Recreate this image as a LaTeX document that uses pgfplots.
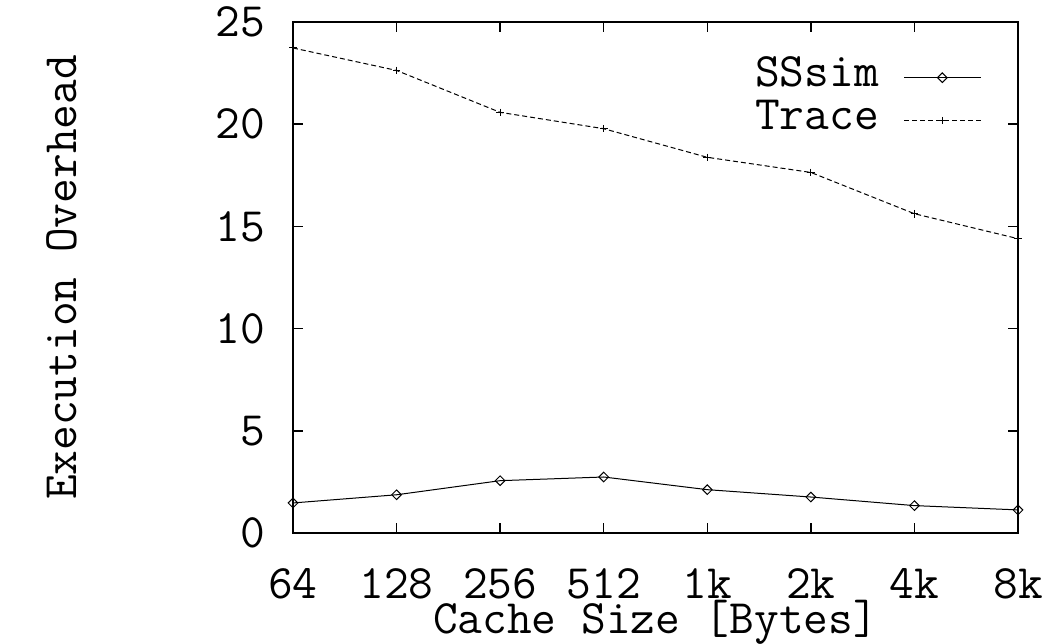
\documentclass[border=0pt]{standalone}
\usepackage{fontspec}
\setmainfont{Latin Modern Mono}
\usepackage{pgfplots}
\pgfplotsset{compat=1.18}
\begin{document}
\begin{tikzpicture}
\useasboundingbox (-293bp,-111bp) rectangle (756bp,533bp);
\begin{axis}[
  at={(0,0)}, anchor=south west,
  scale only axis, width=725bp, height=511bp,
  xmin=0, xmax=7, ymin=0, ymax=25,
  xtick={0,...,7}, xticklabels={64,128,256,512,1k,2k,4k,8k},
  ytick={0,5,...,25},
  font=\fontsize{48bp}{56bp}\selectfont,
  /pgf/number format/assume math mode=true,
  axis line style={line width=2bp},
  major tick length=10bp,
  tick style={line width=1.5bp, black},
  tick align=inside,
  xticklabel style={anchor=base, yshift=-65bp, inner sep=0pt},
  yticklabel style={anchor=east, xshift=-28bp, inner sep=0pt},
  xlabel={Cache Size [Bytes]},
  ylabel={Execution Overhead},
  every axis x label/.style={at={(rel axis cs:0.5,0)}, anchor=base, yshift=-100bp, inner sep=0pt},
  every axis y label/.style={at={(rel axis cs:0,0.5)}, xshift=-231bp, rotate=90, anchor=center},
  legend style={draw=none, fill=none, at={(rel axis cs:1,1)}, anchor=north east,
    xshift=-36bp, yshift=-34bp, inner sep=0pt, row sep=0pt, column sep=25bp,
    nodes={inner sep=0pt, text height=30bp, text depth=13bp}},
  legend cell align=right,
  legend plot pos=right,
  legend image code/.code={\draw[mark repeat=2,mark phase=2,#1] plot coordinates {(0bp,0bp) (38bp,0bp) (77bp,0bp)};},
]
\addplot[black, line width=1bp, mark=square, mark size=3.4bp, mark options={rotate=45, solid, fill=white, line width=1bp}]
  coordinates {(0,1.47) (1,1.87) (2,2.56) (3,2.74) (4,2.12) (5,1.76) (6,1.34) (7,1.13)};
\addlegendentry{SSsim}
\addplot[black, line width=1bp, dash pattern=on 5bp off 3bp, mark=+, mark size=3.8bp, mark options={solid, line width=1bp}]
  coordinates {(0,23.73) (1,22.63) (2,20.58) (3,19.78) (4,18.38) (5,17.64) (6,15.62) (7,14.40)};
\addlegendentry{Trace}
\end{axis}
\end{tikzpicture}
\end{document}
